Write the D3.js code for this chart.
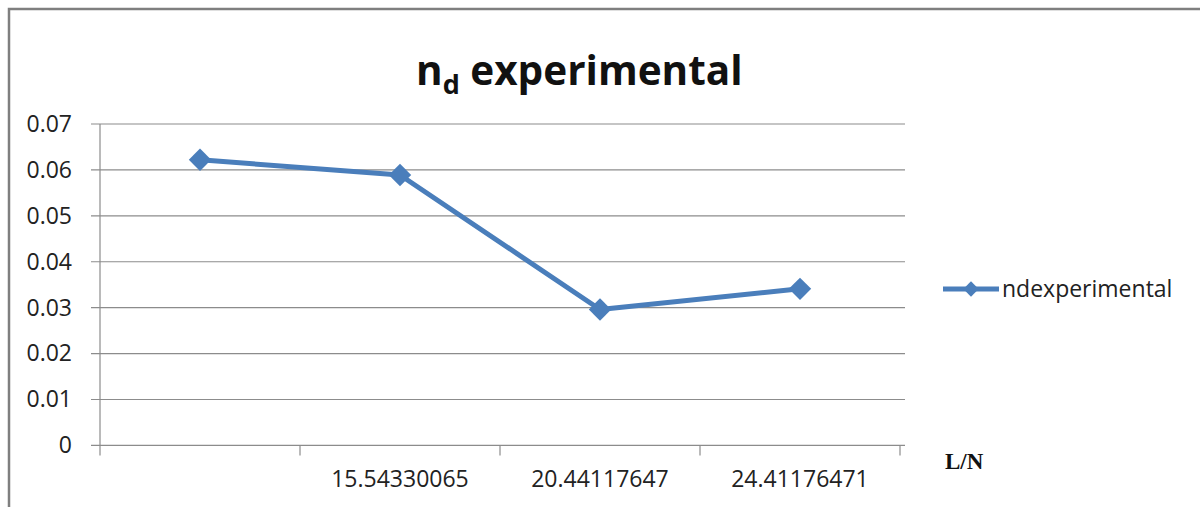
<!DOCTYPE html>
<html>
<head>
<meta charset="utf-8">
<script src="https://cdn.jsdelivr.net/npm/d3@7"></script>
<style>
  html, body { margin: 0; padding: 0; background: #fff; }
  svg { display: block; }
  text { font-family: "Open Sans", "Noto Sans", sans-serif; }
</style>
</head>
<body>
<svg id="chart" width="1200" height="507"></svg>
<script>
// Categories along L/N (first category has no label)
const categories = ["", "15.54330065", "20.44117647", "24.41176471"];
// n_d experimental values for each category
const ndValues = [0.0622, 0.0589, 0.0296, 0.0341];
// Value-axis ticks and their labels
const yTicks = [0, 0.01, 0.02, 0.03, 0.04, 0.05, 0.06, 0.07];
const yTickLabels = ["0", "0.01", "0.02", "0.03", "0.04", "0.05", "0.06", "0.07"];
const seriesName = "ndexperimental";

const svg = d3.select("#chart");
const W = 1200, H = 507;
const plot = { left: 100, right: 905, top: 124, bottom: 445.4 };
const lineColor = "#4a7ebb";
const gridColor = "#8c8c8c";

// Outer frame (top and left edges)
svg.append("path")
  .attr("d", `M9,${H} L9,9 L${W},9`)
  .attr("fill", "none")
  .attr("stroke", "#7f7f7f")
  .attr("stroke-width", 2.5);

const x = d3.scaleBand().domain(d3.range(categories.length)).range([plot.left, 900]).padding(0);
const y = d3.scaleLinear().domain([0, 0.07]).range([plot.bottom, plot.top]);

// Horizontal gridlines with small outward ticks on the left
const grid = svg.append("g");
grid.selectAll("line")
  .data(yTicks)
  .join("line")
  .attr("x1", plot.left - 9)
  .attr("x2", plot.right)
  .attr("y1", d => y(d))
  .attr("y2", d => y(d))
  .attr("stroke", gridColor)
  .attr("stroke-width", 1.2);

// Value axis line and labels
const yAxis = d3.axisLeft(y)
  .tickValues(yTicks)
  .tickFormat((d, i) => yTickLabels[i])
  .tickSize(0)
  .tickPadding(28);
const gy = svg.append("g")
  .attr("transform", `translate(${plot.left},0)`)
  .call(yAxis);
gy.select(".domain").remove();
gy.selectAll("text")
  .attr("font-size", 23)
  .style("font-family", "'Open Sans', sans-serif")
  .attr("fill", "#222");

svg.append("line")
  .attr("x1", plot.left).attr("x2", plot.left)
  .attr("y1", plot.top).attr("y2", plot.bottom + 10)
  .attr("stroke", gridColor).attr("stroke-width", 1.2);

// Category axis ticks at band boundaries
const boundaries = categories.map((c, i) => x(i)).concat([x(categories.length - 1) + x.bandwidth()]);
svg.append("g").selectAll("line")
  .data(boundaries.slice(1))
  .join("line")
  .attr("x1", d => d).attr("x2", d => d)
  .attr("y1", plot.bottom).attr("y2", plot.bottom + 10)
  .attr("stroke", gridColor).attr("stroke-width", 1.2);

// Category labels
svg.append("g").selectAll("text")
  .data(categories)
  .join("text")
  .attr("x", (d, i) => x(i) + x.bandwidth() / 2)
  .attr("y", 487)
  .attr("text-anchor", "middle")
  .attr("font-size", 23)
  .attr("fill", "#222")
  .text(d => d);

// Axis title
svg.append("text")
  .attr("x", 945)
  .attr("y", 469)
  .style("font-family", "'Liberation Serif', 'Times New Roman', serif")
  .attr("font-weight", "bold")
  .attr("font-size", 23)
  .attr("fill", "#111")
  .text("L/N");

// Chart title with subscript
const title = svg.append("text")
  .attr("x", 416)
  .attr("y", 85)
  .attr("font-weight", "bold")
  .attr("font-size", 40.5)
  .attr("fill", "#111");
title.append("tspan").text("n");
title.append("tspan").attr("font-size", 27).attr("dy", 9).text("d");
title.append("tspan").attr("dy", -9).text(" experimental");

// Series line
const cx = i => x(i) + x.bandwidth() / 2;
const line = d3.line().x((d, i) => cx(i)).y(d => y(d));
svg.append("path")
  .datum(ndValues)
  .attr("d", line)
  .attr("fill", "none")
  .attr("stroke", lineColor)
  .attr("stroke-width", 5)
  .attr("stroke-linejoin", "round");

// Diamond markers
const diamond = d3.symbol().type(d3.symbolDiamond2).size(320);
svg.append("g").selectAll("path")
  .data(ndValues)
  .join("path")
  .attr("transform", (d, i) => `translate(${cx(i)},${y(d)})`)
  .attr("d", diamond)
  .attr("fill", lineColor);

// Legend
const lg = svg.append("g").attr("transform", "translate(943,289)");
lg.append("line")
  .attr("x1", 0).attr("x2", 56)
  .attr("stroke", lineColor).attr("stroke-width", 5);
lg.append("path")
  .attr("transform", "translate(28,0)")
  .attr("d", d3.symbol().type(d3.symbolDiamond2).size(150))
  .attr("fill", lineColor);
lg.append("text")
  .attr("x", 59)
  .attr("y", 0)
  .attr("dy", "0.35em")
  .attr("font-size", 23)
  .attr("fill", "#222")
  .text(seriesName);
</script>
</body>
</html>
